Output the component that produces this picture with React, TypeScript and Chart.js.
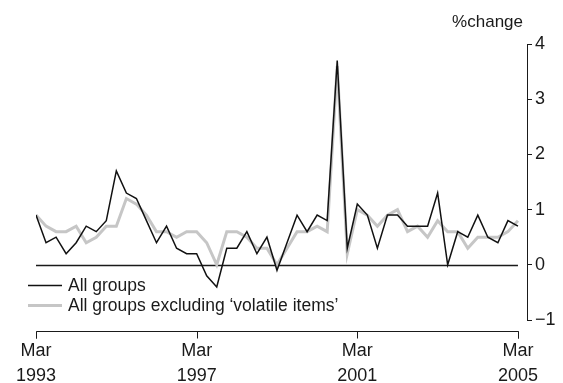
import React, { useEffect, useRef } from "react";
import { Chart, registerables } from "chart.js";

Chart.register(...registerables);

// Quarterly % change, Mar 1993 (index 0) to Mar 2005 (index 48)
const allGroups = [
  0.9, 0.4, 0.5, 0.2, 0.4, 0.7, 0.6, 0.8, 1.7, 1.3, 1.2, 0.8, 0.4, 0.7, 0.3, 0.2,
  0.2, -0.2, -0.4, 0.3, 0.3, 0.6, 0.2, 0.5, -0.1, 0.4, 0.9, 0.6, 0.9, 0.8, 3.7, 0.3,
  1.1, 0.9, 0.3, 0.9, 0.9, 0.7, 0.7, 0.7, 1.3, 0.0, 0.6, 0.5, 0.9, 0.5, 0.4, 0.8, 0.7,
];
const exVolatile = [
  0.9, 0.7, 0.6, 0.6, 0.7, 0.4, 0.5, 0.7, 0.7, 1.2, 1.1, 0.9, 0.6, 0.6, 0.5, 0.6,
  0.6, 0.4, 0.0, 0.6, 0.6, 0.5, 0.3, 0.3, 0.0, 0.3, 0.6, 0.6, 0.7, 0.6, 3.6, 0.2,
  1.0, 0.9, 0.7, 0.9, 1.0, 0.6, 0.7, 0.5, 0.8, 0.6, 0.6, 0.3, 0.5, 0.5, 0.5, 0.6, 0.8,
];
const seriesNames = ["All groups", "All groups excluding \u2018volatile items\u2019"];
const xTickIndex = [0, 16, 32, 48];
const xTickMonth = ["Mar", "Mar", "Mar", "Mar"];
const xTickYear = ["1993", "1997", "2001", "2005"];
const yUnit = "%change";

const FONT = "'Liberation Sans', Arial, sans-serif";
const INK = "#1a1a1a";

const decorPlugin = {
  id: "decor",
  beforeDatasetsDraw(chart: any) {
    const { ctx, scales } = chart;
    const x = scales.x;
    const y = scales.y;
    ctx.save();
    ctx.strokeStyle = INK;
    ctx.lineWidth = 1.5;
    ctx.beginPath();
    ctx.moveTo(x.getPixelForValue(0), Math.round(y.getPixelForValue(0)) + 0.5);
    ctx.lineTo(x.getPixelForValue(48), Math.round(y.getPixelForValue(0)) + 0.5);
    ctx.stroke();
    ctx.restore();
  },
  afterDraw(chart: any) {
    const { ctx, scales } = chart;
    const x = scales.x;
    const y = scales.y;
    ctx.save();
    // x axis
    const axisY = Math.round(y.getPixelForValue(-1)) + 11.5;
    const x0 = x.getPixelForValue(xTickIndex[0]);
    const x1 = x.getPixelForValue(xTickIndex[xTickIndex.length - 1]);
    ctx.strokeStyle = INK;
    ctx.lineWidth = 1;
    ctx.beginPath();
    ctx.moveTo(Math.round(x0) + 0.5, axisY + 7);
    ctx.lineTo(Math.round(x0) + 0.5, axisY);
    ctx.lineTo(Math.round(x1) + 0.5, axisY);
    ctx.lineTo(Math.round(x1) + 0.5, axisY + 7);
    xTickIndex.forEach((v) => {
      const px = Math.round(x.getPixelForValue(v)) + 0.5;
      ctx.moveTo(px, axisY);
      ctx.lineTo(px, axisY + 7);
    });
    ctx.stroke();
    ctx.fillStyle = INK;
    ctx.font = `18px ${FONT}`;
    ctx.textAlign = "center";
    ctx.textBaseline = "middle";
    xTickIndex.forEach((v, i) => {
      const px = x.getPixelForValue(v);
      ctx.fillText(xTickMonth[i], px, axisY + 20);
      ctx.fillText(xTickYear[i], px, axisY + 45);
    });
    // unit label
    ctx.font = `17px ${FONT}`;
    ctx.textAlign = "right";
    ctx.fillText(yUnit, chart.chartArea.right - 4, 22);
    // legend
    const ds = chart.data.datasets;
    const lx = 28;
    const rows = [285, 305];
    ctx.font = `17.5px ${FONT}`;
    ctx.textAlign = "left";
    ds.forEach((d: any, i: number) => {
      ctx.strokeStyle = d.borderColor;
      ctx.lineWidth = d.borderWidth;
      ctx.beginPath();
      ctx.moveTo(lx, rows[i] + 0.5);
      ctx.lineTo(lx + 34, rows[i] + 0.5);
      ctx.stroke();
      ctx.fillStyle = INK;
      ctx.fillText(d.label, lx + 40, rows[i] + 1);
    });
    ctx.restore();
  },
};

export default function App() {
  const ref = useRef<HTMLCanvasElement>(null);
  useEffect(() => {
    if (!ref.current) return;
    const chart = new Chart(ref.current, {
      type: "line",
      data: {
        datasets: [
          {
            label: seriesNames[0],
            data: allGroups.map((v, i) => ({ x: i, y: v })),
            borderColor: "#111111",
            borderWidth: 1.5,
            pointRadius: 0,
            tension: 0,
            order: 0,
          },
          {
            label: seriesNames[1],
            data: exVolatile.map((v, i) => ({ x: i, y: v })),
            borderColor: "#c6c6c6",
            borderWidth: 3,
            pointRadius: 0,
            tension: 0,
            order: 1,
          },
        ],
      },
      options: {
        responsive: false,
        animation: false,
        layout: { padding: { left: 36, top: 44, bottom: 63, right: 0 } },
        plugins: { legend: { display: false }, tooltip: { enabled: false } },
        scales: {
          x: {
            type: "linear",
            display: false,
            min: 0,
            max: 48.9,
          },
          y: {
            position: "right",
            min: -1,
            max: 4,
            afterFit: (s: any) => {
              s.width = 36;
            },
            border: { display: true, color: INK, width: 1 },
            grid: {
              drawOnChartArea: false,
              drawTicks: true,
              tickLength: 5,
              color: INK,
              lineWidth: 1,
            },
            ticks: {
              stepSize: 1,
              padding: 3,
              color: INK,
              font: { family: FONT, size: 18 },
              callback: (v: any) => (v < 0 ? "\u2212" + Math.abs(v) : String(v)),
            },
          },
        },
      },
      plugins: [decorPlugin],
    });
    return () => chart.destroy();
  }, []);
  return (
    <div style={{ position: "fixed", left: 0, top: 0, width: 563, height: 383, background: "#fff" }}>
      <canvas ref={ref} width={563} height={383} />
    </div>
  );
}
